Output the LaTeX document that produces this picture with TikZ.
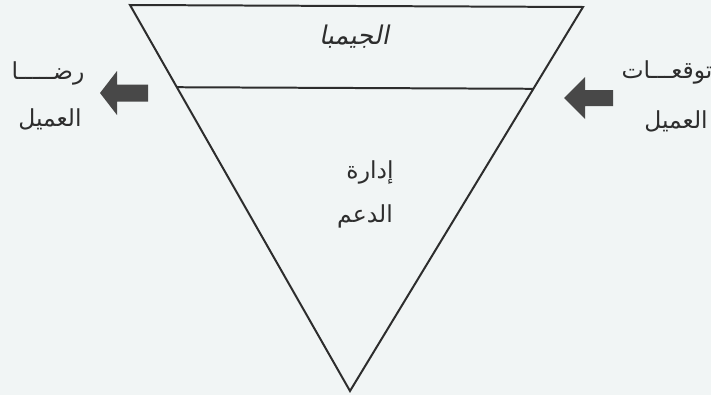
\documentclass[tikz,border=0pt]{standalone}
\usepackage{fontspec}
\usetikzlibrary{calc}
\TeXXeTstate=1
\newfontfamily\arabicfont[Script=Arabic]{DejaVu Sans}
\newfontfamily\arabicslant[Script=Arabic,FakeSlant=0.2]{DejaVu Sans}
\definecolor{paper}{RGB}{241,245,245}
\definecolor{inkgray}{RGB}{45,45,45}
\definecolor{arrowgray}{RGB}{72,72,72}

\begin{document}
\begin{tikzpicture}[
  x=0.03cm, y=-0.03cm,
  edge/.style={draw=inkgray, line width=1.7pt, line join=miter},
  lbl/.style={inner sep=0pt, text=inkgray, font=\arabicfont\fontsize{20}{23}\selectfont},
  gembalbl/.style={inner sep=0pt, text=inkgray, font=\arabicslant\fontsize{22}{25}\selectfont},
  blockarrow/.style={fill=arrowgray},
]
  \fill[paper] (0,0) rectangle (711,395);
  \useasboundingbox (0,0) rectangle (711,395);

  % inverted triangle
  \coordinate (tl) at (130,5);
  \coordinate (tr) at (583,7);
  \coordinate (apex) at (350,391);
  \draw[edge] (tl) -- (tr) -- (apex) -- cycle;
  \coordinate (ml) at ($(tl)!0.213!(apex)$);
  \coordinate (mr) at ($(tr)!0.213!(apex)$);
  \draw[edge] (ml) -- (mr);

  % texts inside
  \node[gembalbl] (gemba) at (354,37) {\beginR الجيمبا\endR};
  \node[lbl] (idara) at (370,172) {\beginR إدارة\endR};
  \node[lbl] (daam) at (365,216) {\beginR الدعم\endR};

  % left side
  \coordinate (larrow) at (100,93);
  \fill[blockarrow] (larrow) -- ++(17,-22) -- ++(0,13.5) -- ++(31,0) -- ++(0,17)
    -- ++(-31,0) -- ++(0,13.5) -- cycle;
  \node[lbl] (rida) at (48,73) {\beginR رضـــــا\endR};
  \node[lbl] (clientl) at (50,119) {\beginR العميل\endR};

  % right side
  \coordinate (rarrow) at (564,98);
  \fill[blockarrow] (rarrow) -- ++(21,-21) -- ++(0,13) -- ++(28,0) -- ++(0,16)
    -- ++(-28,0) -- ++(0,13) -- cycle;
  \node[lbl] (tawaqqu) at (667,72) {\beginR توقعـــات\endR};
  \node[lbl] (clientr) at (676,121) {\beginR العميل\endR};
\end{tikzpicture}
\end{document}
